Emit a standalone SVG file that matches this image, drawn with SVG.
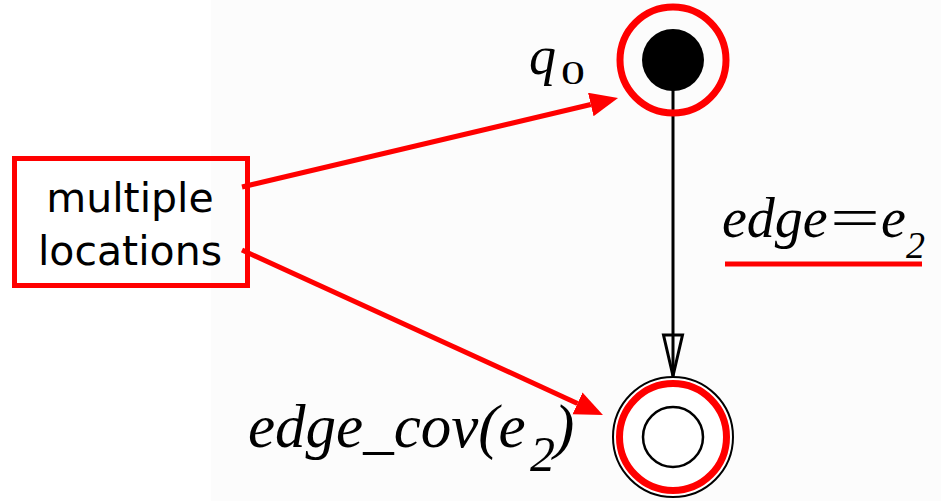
<svg xmlns="http://www.w3.org/2000/svg" width="941" height="501" viewBox="0 0 941 501">
<style>
.math{font-family:"Liberation Serif","Times New Roman",serif;font-style:italic;fill:#000}
.up{font-family:"Liberation Serif","Times New Roman",serif;fill:#000}
.box{font-family:"DejaVu Sans",Verdana,sans-serif;font-size:41px;fill:#000;text-anchor:middle}
.red{stroke:#ff0000;fill:none}
</style>
<defs>
<marker id="rarrow" markerUnits="userSpaceOnUse" markerWidth="30" markerHeight="26" refX="0" refY="12" orient="auto">
<path d="M0,0 L28,12 L0,24 z" fill="#ff0000"/>
</marker>
</defs>
<rect x="0" y="0" width="941" height="501" fill="#ffffff"/>
<rect x="211" y="0" width="730" height="501" fill="#fcfcfc"/>

<g id="connectors">
<line x1="673" y1="90" x2="673" y2="376" stroke="#000" stroke-width="3"/>
<polygon points="663.5,335 682.5,335 673,376" fill="none" stroke="#000" stroke-width="3" stroke-linejoin="miter"/>
<line x1="242" y1="187" x2="590.8" y2="104.5" stroke="#ff0000" stroke-width="5" marker-end="url(#rarrow)"/>
<line x1="242" y1="250" x2="577.5" y2="403.4" stroke="#ff0000" stroke-width="5" marker-end="url(#rarrow)"/>
</g>

<g id="q0">
<circle cx="673" cy="60" r="31" fill="#000"/>
<circle cx="673" cy="60" r="53" class="red" stroke-width="7"/>
<text class="math" x="529" y="74" font-size="54">q</text>
<text class="up" font-size="33" transform="translate(561,84) scale(1.45,1)">0</text>
</g>

<g id="edge_cov">
<circle cx="673" cy="437" r="60" fill="#fff" stroke="#000" stroke-width="2"/>
<circle cx="673" cy="437" r="53.5" class="red" stroke-width="7"/>
<circle cx="673" cy="437" r="30" fill="none" stroke="#000" stroke-width="2.5"/>
<text class="math" x="248" y="447" font-size="61">edge_cov(e</text>
<text class="math" x="530" y="471" font-size="50">2</text>
<text class="math" x="554" y="447" font-size="61">)</text>
</g>

<g id="edge_label">
<text class="math" x="722" y="237" font-size="56">edge</text>
<text class="up" x="830" y="237" font-size="56" textLength="50" lengthAdjust="spacingAndGlyphs">=</text>
<text class="math" x="881" y="237" font-size="56">e</text>
<text class="math" x="906" y="258" font-size="38">2</text>
<line x1="725" y1="264" x2="922" y2="264" stroke="#ff0000" stroke-width="5"/>
</g>

<g id="multiple_locations">
<rect x="14.5" y="158.5" width="233" height="127" class="red" stroke-width="5"/>
<text class="box" x="130" y="212">multiple</text>
<text class="box" x="130" y="265">locations</text>
</g>
</svg>
